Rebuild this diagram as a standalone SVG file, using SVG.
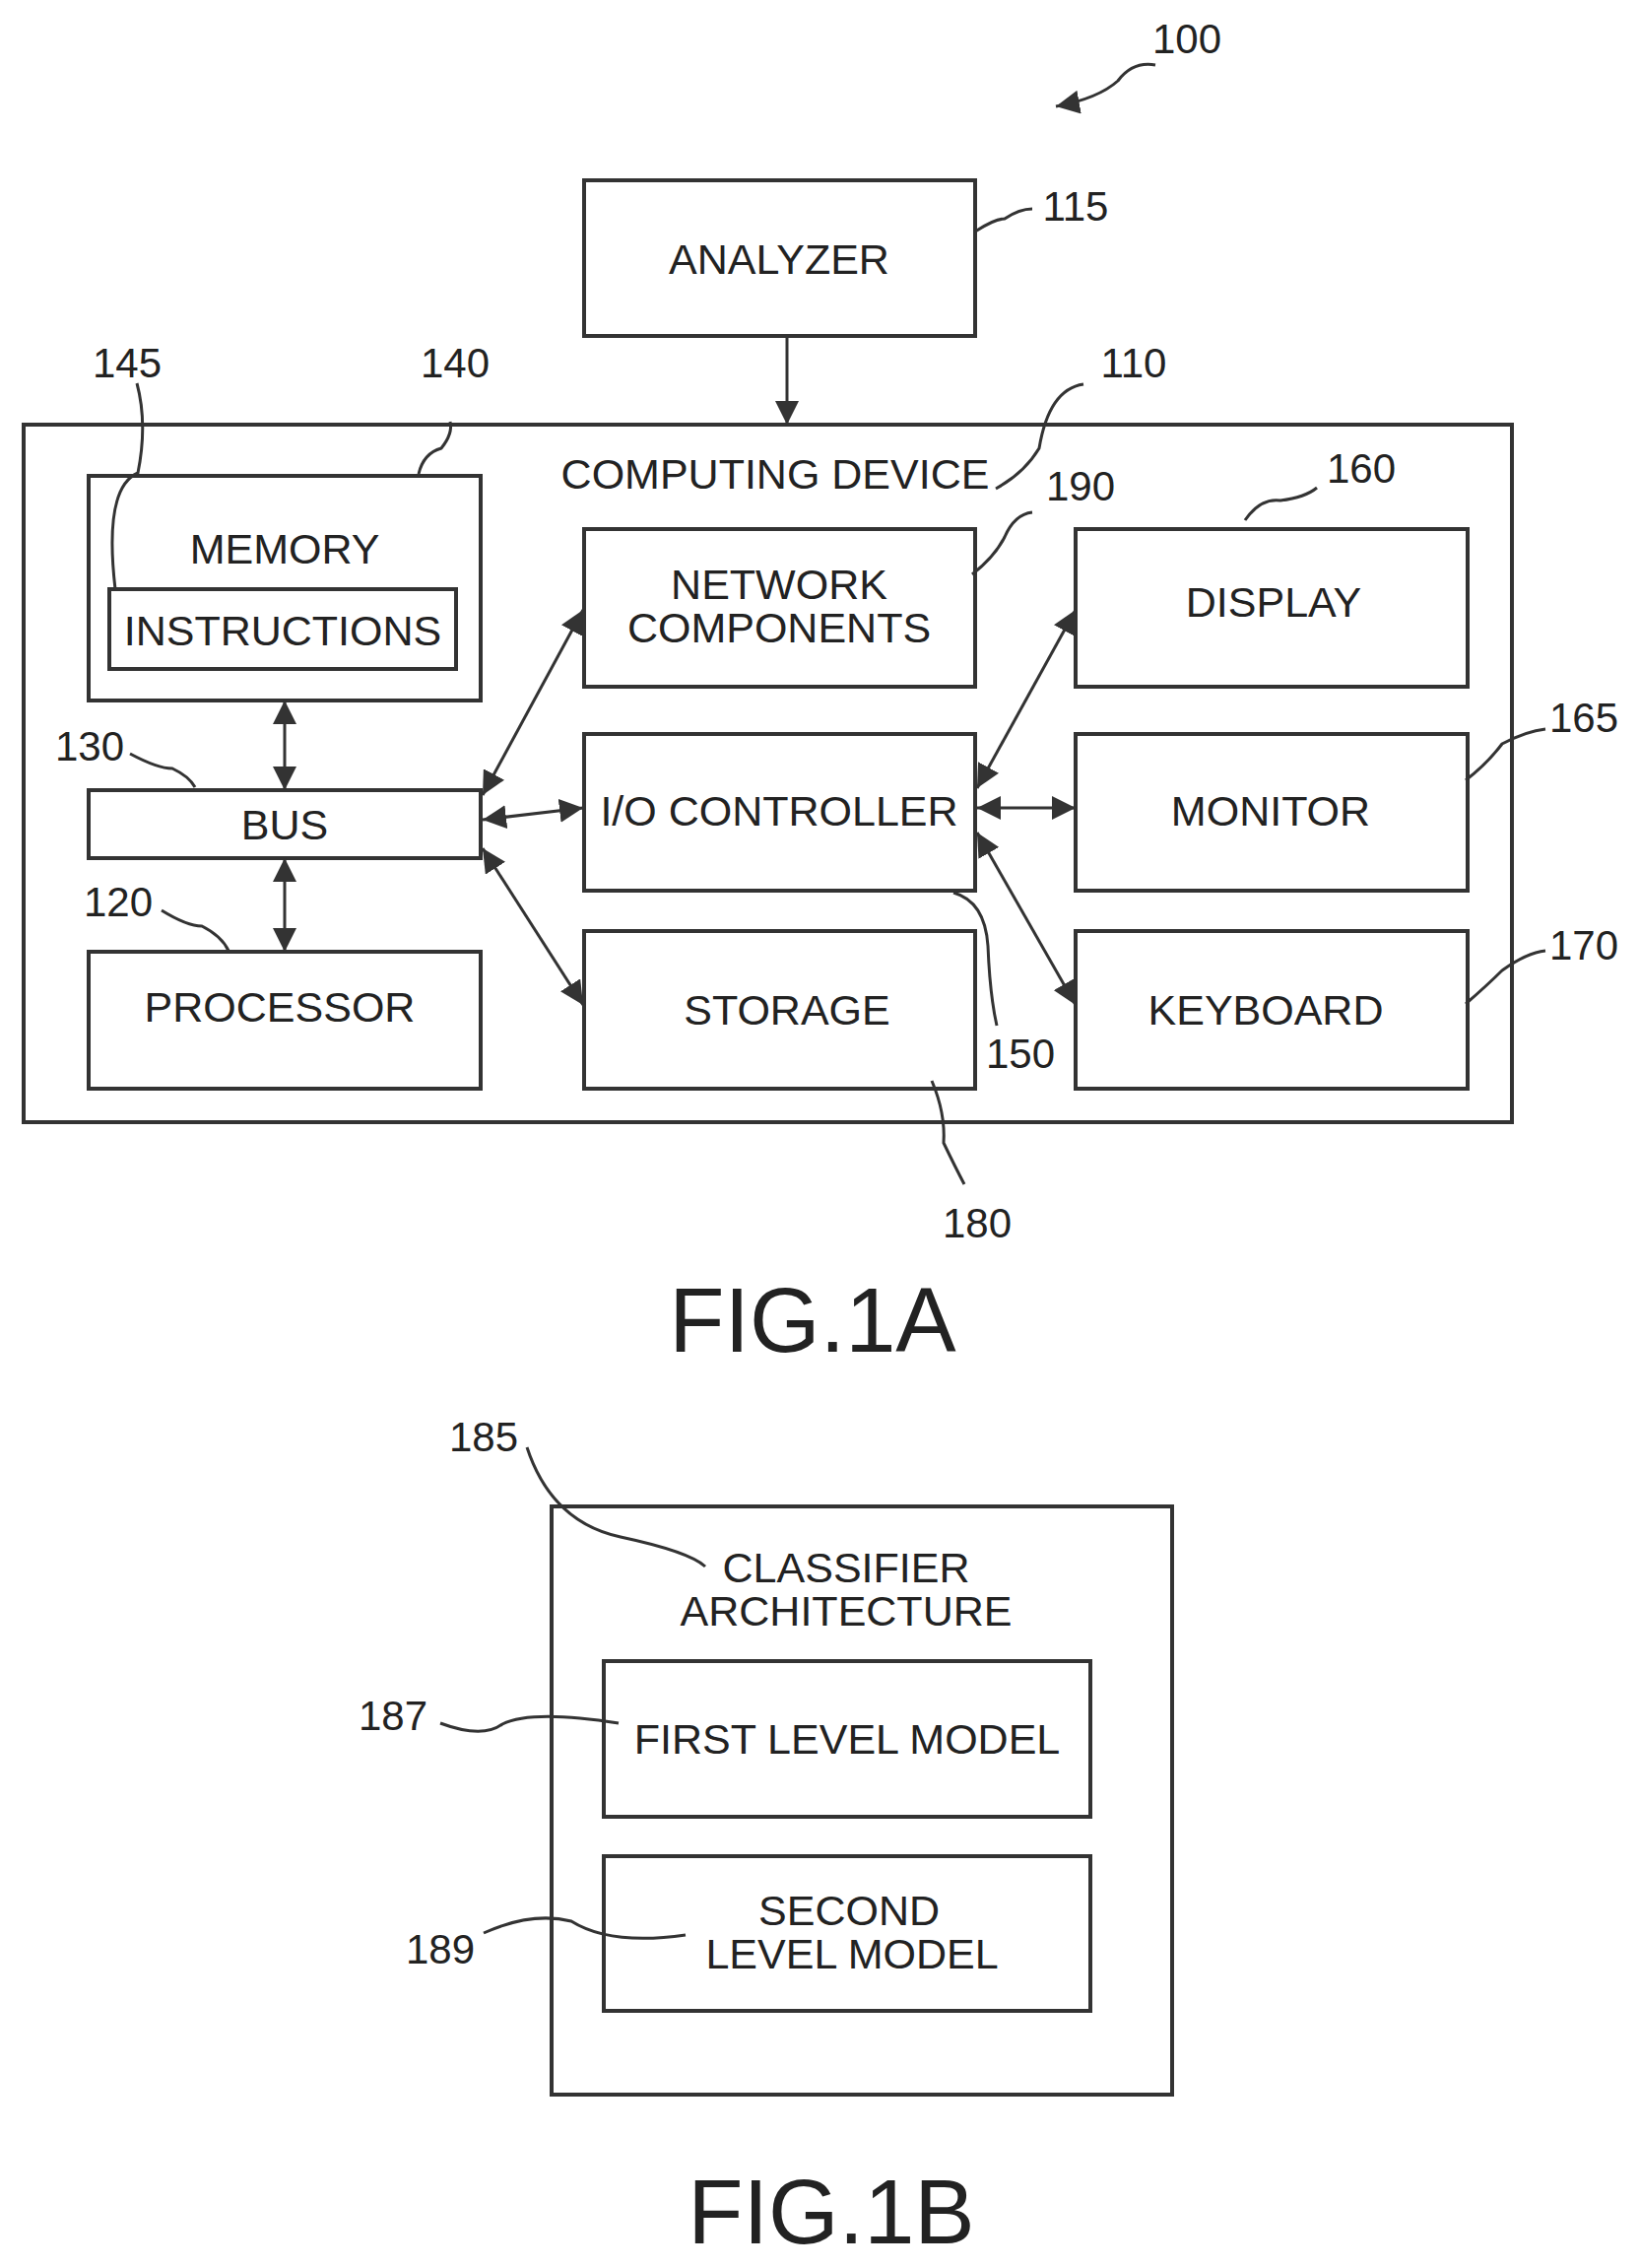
<svg xmlns="http://www.w3.org/2000/svg" width="1664" height="2302" viewBox="0 0 1664 2302">
<defs>
<marker id="ah" viewBox="0 0 10 10" refX="10" refY="5" markerWidth="8" markerHeight="8" orient="auto-start-reverse"><path d="M0,0 L10,5 L0,10 z" fill="#333"/></marker>
<style>
rect{fill:none;stroke:#333;stroke-width:4}
text{font-family:"Liberation Sans",Arial,sans-serif;font-size:43px;fill:#222;text-anchor:middle}
.n{font-size:42px}
.fig{font-size:92px}
.c path{fill:none;stroke:#333;stroke-width:3}
.ld path{fill:none;stroke:#333;stroke-width:3}
</style>
</defs>
<rect x="0" y="0" width="1664" height="2302" style="fill:#fff;stroke:none"/>
<g id="analyzer"><rect x="593" y="183" width="397" height="158"/><text x="791" y="278">ANALYZER</text></g>
<g id="computing"><rect x="24" y="431" width="1511" height="708"/><text x="787" y="496">COMPUTING DEVICE</text></g>
<g id="memory"><rect x="90" y="483" width="398" height="228"/><text x="289" y="572">MEMORY</text></g>
<g id="instructions"><rect x="111" y="598" width="352" height="81"/><text x="287" y="655">INSTRUCTIONS</text></g>
<g id="bus"><rect x="90" y="802" width="398" height="69"/><text x="289" y="852">BUS</text></g>
<g id="processor"><rect x="90" y="966" width="398" height="139"/><text x="284" y="1037">PROCESSOR</text></g>
<g id="network"><rect x="593" y="537" width="397" height="160"/><text x="791" y="608">NETWORK</text><text x="791" y="652">COMPONENTS</text></g>
<g id="io"><rect x="593" y="745" width="397" height="159"/><text x="791" y="838">I/O CONTROLLER</text></g>
<g id="storage"><rect x="593" y="945" width="397" height="160"/><text x="799" y="1040">STORAGE</text></g>
<g id="display"><rect x="1092" y="537" width="398" height="160"/><text x="1293" y="626">DISPLAY</text></g>
<g id="monitor"><rect x="1092" y="745" width="398" height="159"/><text x="1290" y="838">MONITOR</text></g>
<g id="keyboard"><rect x="1092" y="945" width="398" height="160"/><text x="1285" y="1040">KEYBOARD</text></g>
<g id="classifier"><rect x="560" y="1529" width="630" height="597"/><text x="859" y="1606">CLASSIFIER</text><text x="859" y="1650">ARCHITECTURE</text></g>
<g id="first"><rect x="613" y="1686" width="494" height="158"/><text x="860" y="1780">FIRST LEVEL MODEL</text></g>
<g id="second"><rect x="613" y="1884" width="494" height="157"/><text x="862" y="1954">SECOND</text><text x="865" y="1998">LEVEL MODEL</text></g>
<g class="c" id="connectors">
<path d="M799,341 V431" marker-end="url(#ah)"/>
<path d="M289,711 V802" marker-start="url(#ah)" marker-end="url(#ah)"/>
<path d="M289,871 V966" marker-start="url(#ah)" marker-end="url(#ah)"/>
<path d="M490,807 L592,619" marker-start="url(#ah)" marker-end="url(#ah)"/>
<path d="M490,832 L592,820" marker-start="url(#ah)" marker-end="url(#ah)"/>
<path d="M490,861 L592,1020" marker-start="url(#ah)" marker-end="url(#ah)"/>
<path d="M992,800 L1092,619" marker-start="url(#ah)" marker-end="url(#ah)"/>
<path d="M992,820 L1092,820" marker-start="url(#ah)" marker-end="url(#ah)"/>
<path d="M992,845 L1092,1020" marker-start="url(#ah)" marker-end="url(#ah)"/>
<path d="M1173,66 Q1150,62 1135,82 Q1115,100 1072,108" marker-end="url(#ah)"/>
</g>
<g class="ld" id="leaders">
<path d="M990,235 Q1010,222 1020,222 Q1035,212 1048,212"/>
<path d="M1011,496 Q1040,480 1055,455 Q1065,395 1100,390"/>
<path d="M987,583 Q1010,565 1020,545 Q1030,522 1048,520"/>
<path d="M1264,528 Q1280,505 1300,508 Q1325,505 1337,495"/>
<path d="M425,481 Q430,460 448,455 Q460,440 457,428"/>
<path d="M139,389 Q150,430 140,480 Q105,495 117,598"/>
<path d="M132,765 Q160,780 175,780 Q192,788 198,799"/>
<path d="M164,924 Q190,940 205,940 Q225,950 232,965"/>
<path d="M1488,792 Q1510,775 1525,755 Q1550,742 1569,740"/>
<path d="M1488,1019 Q1510,1000 1525,985 Q1550,967 1569,965"/>
<path d="M968,906 Q1000,915 1003,960 Q1005,1010 1012,1041"/>
<path d="M946,1097 Q960,1130 958,1160 Q970,1185 979,1202"/>
<path d="M535,1469 Q560,1545 630,1560 Q700,1575 716,1590"/>
<path d="M447,1749 Q490,1765 510,1750 Q540,1735 628,1749"/>
<path d="M491,1962 Q540,1940 580,1950 Q620,1975 696,1964"/>
</g>
<g id="labels">
<text class="n" x="1205" y="54">100</text>
<text class="n" x="1092" y="224">115</text>
<text class="n" x="1151" y="383">110</text>
<text class="n" x="1097" y="508">190</text>
<text class="n" x="1382" y="490">160</text>
<text class="n" x="462" y="383">140</text>
<text class="n" x="129" y="383">145</text>
<text class="n" x="91" y="772">130</text>
<text class="n" x="120" y="930">120</text>
<text class="n" x="1608" y="743">165</text>
<text class="n" x="1608" y="974">170</text>
<text class="n" x="1036" y="1084">150</text>
<text class="n" x="992" y="1256">180</text>
<text class="n" x="491" y="1473">185</text>
<text class="n" x="399" y="1756">187</text>
<text class="n" x="447" y="1993">189</text>
<text class="fig" x="825" y="1372">FIG.1A</text>
<text class="fig" x="844" y="2277">FIG.1B</text>
</g>
</svg>
